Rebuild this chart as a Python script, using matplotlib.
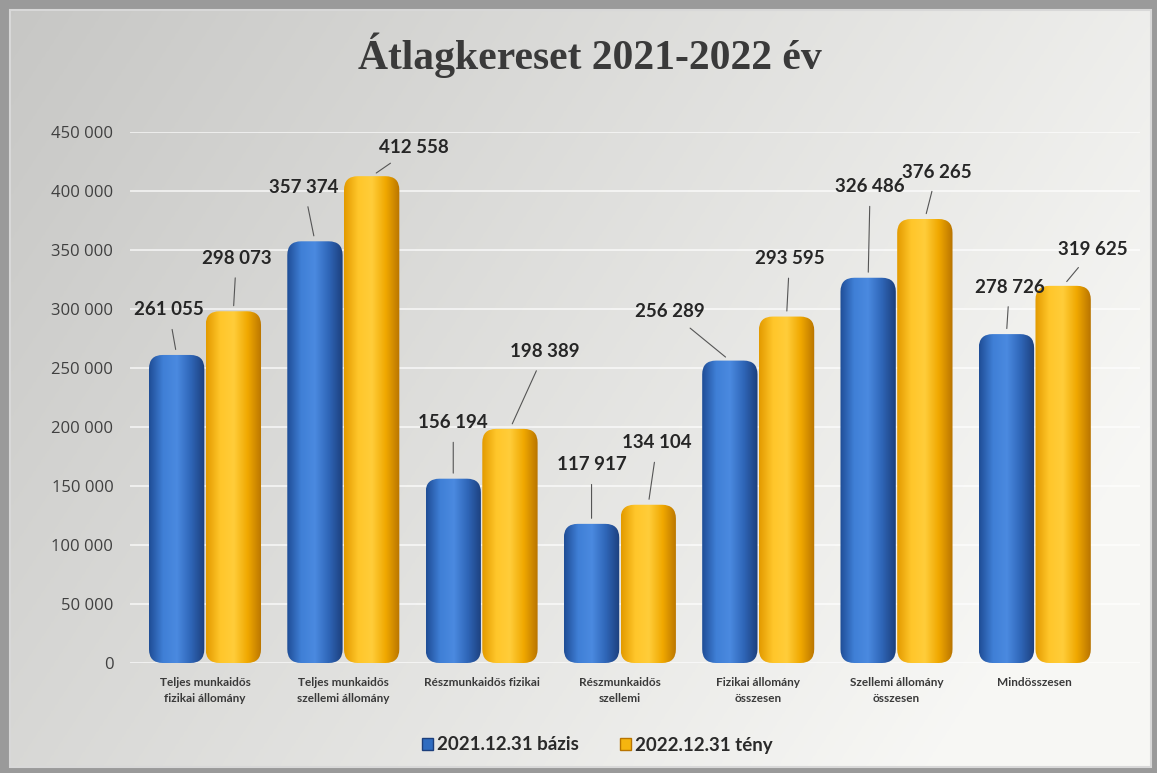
import numpy as np
import matplotlib
matplotlib.use("Agg")
import matplotlib.pyplot as plt
from matplotlib.patches import FancyBboxPatch, Rectangle
from matplotlib.colors import LinearSegmentedColormap
from matplotlib.ticker import FuncFormatter

# --- data ---
categories = [
    "Teljes munkaidős\nfizikai állomány",
    "Teljes munkaidős\nszellemi állomány",
    "Részmunkaidős fizikai",
    "Részmunkaidős\nszellemi",
    "Fizikai állomány\nösszesen",
    "Szellemi állomány\nösszesen",
    "Mindösszesen",
]
base_2021 = [261055, 357374, 156194, 117917, 256289, 326486, 278726]
fact_2022 = [298073, 412558, 198389, 134104, 293595, 376265, 319625]
series_names = ["2021.12.31 bázis", "2022.12.31 tény"]
y_ticks = [0, 50000, 100000, 150000, 200000, 250000, 300000, 350000, 400000, 450000]

# label offsets (pixels: dx, dy from bar top centre to text centre)
off_2021 = [(-8, 45), (-11, 54), (0, 56), (0, 59), (-60, 49), (2, 91), (3, 47)]
off_2022 = [(3, 53), (42, 29), (35, 77), (9, 62), (3, 58), (12, 47), (30, 36)]

W, H, DPI = 1157, 773, 100
fig = plt.figure(figsize=(W / DPI, H / DPI), dpi=DPI)

# background panel with gradient
bg = fig.add_axes([0, 0, 1, 1])
bg.set_xlim(0, W)
bg.set_ylim(H, 0)
bg.axis("off")
gx = np.linspace(0, 1, 256)
gy = np.linspace(0, 1, 256)
GX, GY = np.meshgrid(gx, gy)
shade = 0.78 + 0.19 * np.clip(GX * 0.8 + GY * 0.35, 0, 1)
bg_img = np.dstack([shade, shade, shade * 0.99])
bg.add_patch(Rectangle((0, 0), W, H, facecolor="#9a9a9a", edgecolor="none"))
bg.imshow(bg_img, extent=(10, W - 6, H - 6, 10), aspect="auto", zorder=1)
bg.add_patch(Rectangle((10, 10), W - 16, H - 16, facecolor="none",
                       edgecolor="#d8d8d8", lw=1.5, zorder=2))

fig.text(590 / W, 1 - 55 / H, "Átlagkereset 2021-2022 év", ha="center", va="center",
         fontsize=30, fontweight="bold", family="Liberation Serif", color="#3a3a3a")

ax = fig.add_axes([130 / W, 110 / H, 1010 / W, 531 / H])
ax.patch.set_alpha(0)
for s in ax.spines.values():
    s.set_visible(False)

x = np.arange(len(categories))
bw = 0.4
bars1 = ax.bar(x - 0.205, base_2021, width=bw, color="#2f6cc0", label=series_names[0])
bars2 = ax.bar(x + 0.205, fact_2022, width=bw, color="#f6b50f", label=series_names[1])

xlim = (-(205 - 130) / 138.3, (1140 - 205) / 138.3)
ylim = (0, 450000)
ax.set_xlim(*xlim)
ax.set_ylim(*ylim)

# white back-wall grid lines
for t in y_ticks:
    ax.axhline(t, color="white", lw=1.2, alpha=0.75, zorder=0.5)

px_per_x = 1010 / (xlim[1] - xlim[0])
px_per_y = 531 / (ylim[1] - ylim[0])
aspect = px_per_x / px_per_y

blue_cmap = LinearSegmentedColormap.from_list(
    "b", ["#1f4d96", "#3f7fd6", "#4b8ae0", "#2f66b8", "#1c3f7c"])
yel_cmap = LinearSegmentedColormap.from_list(
    "y", ["#e39a00", "#ffc62a", "#ffcd3a", "#f0a800", "#b87400"])
grad = np.linspace(0, 1, 128).reshape(1, -1)

for bars, cmap in ((bars1, blue_cmap), (bars2, yel_cmap)):
    for rect in bars:
        rect.set_visible(False)
        x0, w, h = rect.get_x(), rect.get_width(), rect.get_height()
        patch = FancyBboxPatch((x0, 0), w, h,
                               boxstyle="round,pad=0,rounding_size=0.1",
                               mutation_aspect=aspect,
                               facecolor="none", edgecolor="none", zorder=2)
        ax.add_patch(patch)
        im = ax.imshow(np.repeat(grad, 2, axis=0), cmap=cmap, aspect="auto",
                       extent=(x0, x0 + w, 0, h), zorder=2)
        im.set_clip_path(patch)

ax.set_xlim(*xlim)
ax.set_ylim(*ylim)

# value labels with leader lines
def add_labels(bars, vals, offs):
    for rect, v, (dx, dy) in zip(bars, vals, offs):
        cx = rect.get_x() + rect.get_width() / 2
        ax.annotate(f"{v:,}".replace(",", " "), xy=(cx, v), xycoords="data",
                    xytext=(dx * 0.72, dy * 0.72), textcoords="offset points",
                    ha="center", va="center", fontsize=13.5, fontweight="bold",
                    family="Lato", color="#262626", zorder=5, annotation_clip=False,
                    arrowprops=dict(arrowstyle="-", color="#555555", lw=0.8,
                                    shrinkA=6, shrinkB=4))

add_labels(bars1, base_2021, off_2021)
add_labels(bars2, fact_2022, off_2022)

ax.set_yticks(y_ticks)
ax.yaxis.set_major_formatter(FuncFormatter(lambda v, p: f"{int(v):,}".replace(",", " ")))
ax.tick_params(axis="y", length=0, labelsize=12, labelcolor="#404040", pad=12)
for lab in ax.get_yticklabels():
    lab.set_family("Open Sans")
ax.set_xticks(x)
ax.set_xticklabels(categories, fontsize=8.5, fontweight="bold", color="#3a3a3a",
                   linespacing=1.6, va="top", family="Lato")
ax.tick_params(axis="x", length=0, pad=10)

# legend
handles = [Rectangle((0, 0), 1, 1, facecolor="#2f6cc0", edgecolor="#1c3f7c"),
           Rectangle((0, 0), 1, 1, facecolor="#f6b50f", edgecolor="#b87400")]
fig.legend(handles, series_names, loc="center", bbox_to_anchor=(597 / W, 1 - 745 / H),
           ncol=2, frameon=False, handlelength=0.6, handleheight=0.6,
           handletextpad=0.2, columnspacing=2.2,
           prop={"weight": "bold", "size": 13.5, "family": "Lato"}, labelcolor="#2a2a2a")

fig.savefig("out.png", dpi=DPI)
